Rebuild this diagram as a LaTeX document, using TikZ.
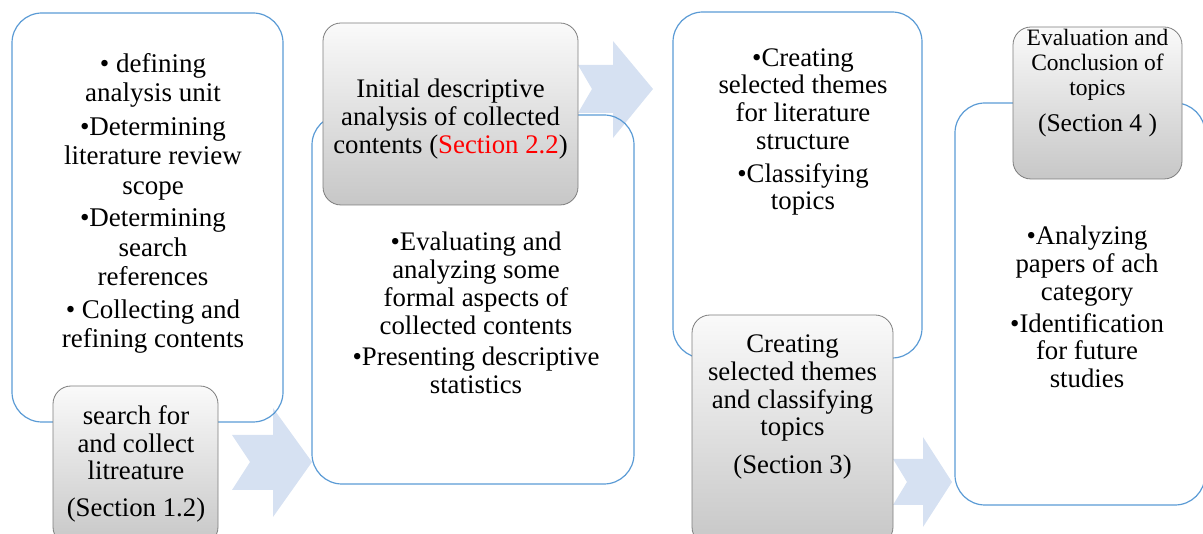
\documentclass[tikz,border=0pt]{standalone}
\usepackage{fontspec}
\setmainfont{Liberation Serif}
\usetikzlibrary{shapes, positioning}

\definecolor{panelblue}{RGB}{91,155,213}
\definecolor{flowblue}{RGB}{214,225,242}
\definecolor{headgray}{RGB}{125,125,125}

\begin{document}
\begin{tikzpicture}[x=1pt, y=-1pt]
\tikzstyle{panel} = [rectangle, rounded corners=30pt, draw=panelblue, line width=1.2pt, inner sep=0pt]
\tikzstyle{header} = [rectangle, rounded corners=18pt, draw=headgray, line width=0.8pt, top color=black!2, bottom color=black!22, inner sep=0pt]
\tikzstyle{flow} = [fill=flowblue]
\tikzstyle{txt} = [align=center, inner sep=0pt, font=\fontsize{26.8}{27.7}\selectfont]

\useasboundingbox (0,0) rectangle (1203,534);
\clip (0,0) rectangle (1203,534);

% block arrows between the steps
\fill [flow] (232,435) -- (273,435) -- (273,408) -- (312,462) -- (273,517) -- (273,490) -- (232,490) -- (250,462) -- cycle;
\fill [flow] (578,65) -- (613,65) -- (613,41) -- (653,89) -- (613,138) -- (613,113) -- (578,113) -- (592,89) -- cycle;
\fill [flow] (893,459) -- (923,459) -- (923,437) -- (952,482) -- (923,527) -- (923,505) -- (893,505) -- (907,482) -- cycle;

\node [panel, minimum width=271pt, minimum height=409pt] (searchpanel) at (147.5,217.5) {};
\node [panel, minimum width=322pt, minimum height=369pt] (descpanel) at (473,299.5) {};
\node [panel, minimum width=249pt, minimum height=346pt] (themepanel) at (797.5,185) {};
\node [panel, minimum width=250pt, minimum height=402pt] (evalpanel) at (1080,304) {};

\node [header, minimum width=165pt, minimum height=159pt] (searchhead) at (135.5,465.5) {};
\node [header, minimum width=255pt, minimum height=182pt] (deschead) at (450.5,114) {};
\node [header, minimum width=201pt, minimum height=230pt] (themehead) at (792.5,430) {};
\node [header, minimum width=169pt, minimum height=152pt] (evalhead) at (1097.5,103) {};

\node [txt, font=\fontsize{27}{29.5}\selectfont] (searchtext) at (153,203.5) {• defining\\ analysis unit\\[4pt] •Determining\\ literature review\\ scope\\[3pt] •Determining\\ search\\ references\\[3pt] • Collecting and\\ refining contents};
\node [txt] (desctext) at (476,313) {•Evaluating and\\ analyzing some\\ formal aspects of\\ collected contents\\[4pt] •Presenting descriptive\\ statistics};
\node [txt] (themetext) at (803,132) {•Creating\\ selected themes\\ for literature\\ structure\\[5pt] •Classifying\\ topics};
\node [txt] (evaltext) at (1087,307) {•Analyzing\\ papers of ach\\ category\\[4pt] •Identification\\ for future\\ studies};

\node [txt] (searchlbl) at (136,464) {search for\\ and collect\\ litreature\\[9pt] (Section 1.2)};
\node [txt] (desclbl) at (450.5,119) {Initial descriptive\\ analysis of collected\\ contents (\textcolor{red}{Section 2.2})};
\node [txt] (themelbl) at (792.5,407) {Creating\\ selected themes\\ and classifying\\ topics\\[10pt] (Section 3)};
\node [txt, font=\fontsize{23.5}{25}\selectfont] (evallbl) at (1097.5,83.5) {Evaluation and\\ Conclusion of\\ topics\\[11pt] {\fontsize{25.5}{25}\selectfont (Section 4 )}};
\end{tikzpicture}
\end{document}
